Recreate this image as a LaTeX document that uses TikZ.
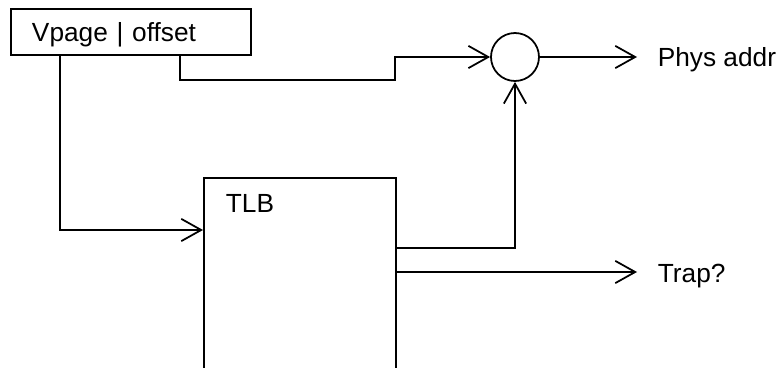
\documentclass[tikz,border=0pt]{standalone}
\usepackage{fontspec}
\setmainfont{Liberation Sans}
\usetikzlibrary{arrows.meta, positioning}
\tikzset{
  every picture/.style={line width=1.5pt, font=\fontsize{22.4}{27}\selectfont},
  box/.style={draw, rectangle, inner sep=0pt},
  arrow/.style={-{Straight Barb[length=17pt, width=19pt, line width=1.5pt]}},
  label/.style={inner sep=0pt, anchor=base west},
}

\begin{document}
\begin{tikzpicture}[x=0.03cm, y=-0.03cm]
  \clip (0,0) rectangle (777,368);
  % virtual address register
  \node[box, minimum width=7.2cm, minimum height=1.38cm, text width=5.94cm, text depth=0pt, align=left] (vaddr) at (131,32) {Vpage | offset};
  % TLB
  \node[box, anchor=north west, minimum width=5.76cm, minimum height=7cm] (tlb) at (203,177) {};
  \node[label] (tlbname) at (225,212) {TLB};
  % adder
  \node[draw, circle, minimum size=1.44cm, inner sep=0pt] (add) at (515,57) {};
  \node[label] (phys) at (657,67) {Phys addr};
  \node[label] (trap) at (657,282) {Trap?};
  % tap points
  \coordinate (vpout) at (60,55);
  \coordinate (offout) at (180,55);
  \coordinate (tlbin) at (203,230);
  \coordinate (jog) at (395,80);
  \coordinate (tlbhit) at (395,248);
  \coordinate (tlbtrap) at (395,272);
  \coordinate (physend) at (637,57);
  \coordinate (trapend) at (637,272);
  % wires
  \draw[arrow] (vpout) |- (tlbin);
  \draw[arrow] (offout) |- (jog) |- (add.west);
  \draw[arrow] (tlbhit) -| (add.south);
  \draw[arrow] (add.east) -- (physend);
  \draw[arrow] (tlbtrap) -- (trapend);
\end{tikzpicture}
\end{document}
